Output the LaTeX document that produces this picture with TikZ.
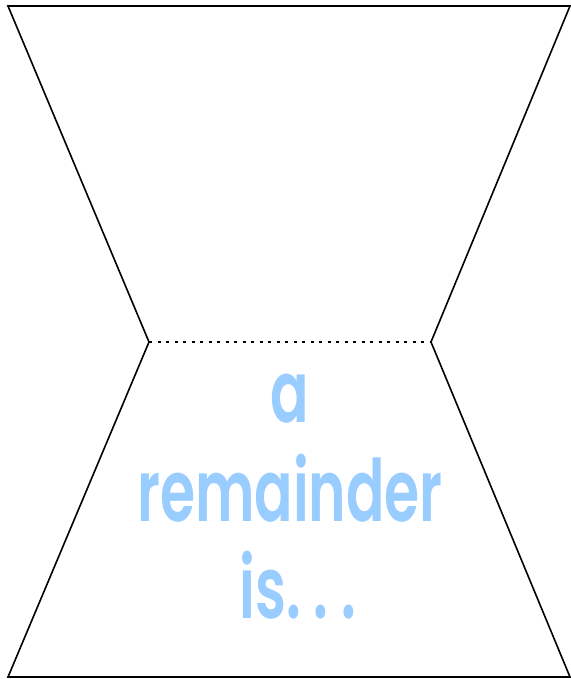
\documentclass[tikz,border=0pt]{standalone}
\usepackage{fontspec}
\setmainfont{Poppins}[BoldFont={Poppins SemiBold}]
\usetikzlibrary{positioning}
\definecolor{cline}{HTML}{000000}
\definecolor{clabel}{HTML}{99CCFF}
\tikzset{
  every picture/.style={line width=1.6pt, line join=miter},
  outline/.style={draw=cline},
  fold/.style={draw=cline, line width=1.4pt, dash pattern=on 3pt off 5.5pt},
  word/.style={text=clabel, anchor=base, inner sep=0pt, xscale=0.66,
    font=\fontsize{86}{98}\selectfont\bfseries},
}

\begin{document}
\begin{tikzpicture}[x=1pt, y=-1pt]
  \useasboundingbox (0,0) rectangle (570,679);
  % corners of the folded flap
  \coordinate (tl) at (8,6);
  \coordinate (tr) at (570,6);
  \coordinate (ml) at (149,342);
  \coordinate (mr) at (431,342);
  \coordinate (bl) at (8,677);
  \coordinate (br) at (570,677);
  \draw[outline] (tl) -- (tr) -- (mr) -- (br) -- (bl) -- (ml) -- cycle;
  \draw[fold] (ml) -- (mr);
  % label
  \node[word] (la) at (290,422) {a};
  \node[word] (lrem) at (290,521) {remainder};
  \node[word] (lis) at (298,618) {is.\hspace{20pt}.\hspace{20pt}.};
\end{tikzpicture}
\end{document}
